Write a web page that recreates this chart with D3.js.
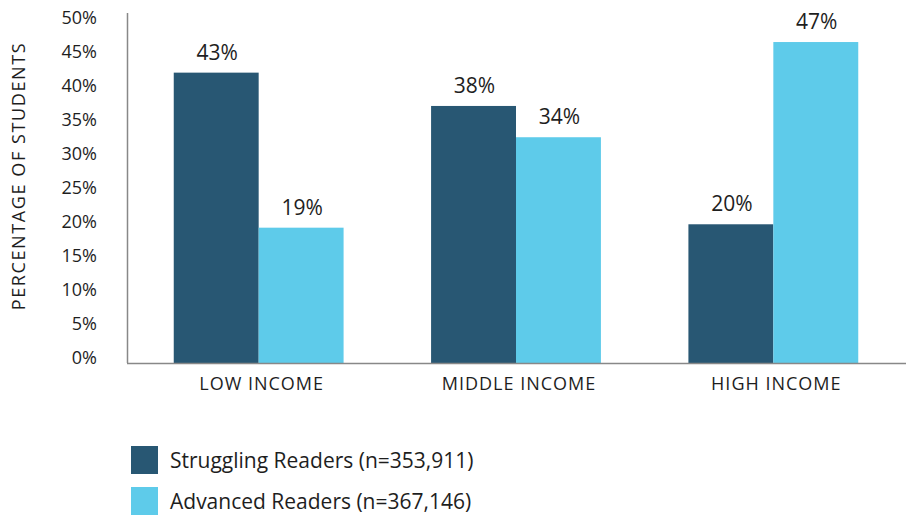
<!DOCTYPE html>
<html>
<head>
<meta charset="utf-8">
<script src="https://cdn.jsdelivr.net/npm/d3@7"></script>
<style>
  html, body { margin: 0; padding: 0; background: #fff; }
  svg { display: block; font-family: "Open Sans", "Noto Sans", sans-serif; }
</style>
</head>
<body>
<div id="chart"></div>
<script>
const categories = ["LOW INCOME", "MIDDLE INCOME", "HIGH INCOME"];
const seriesNames = ["Struggling Readers (n=353,911)", "Advanced Readers (n=367,146)"];
const struggling = [42.7, 37.8, 20.4];
const advanced = [19.9, 33.2, 47.2];
const strugglingLabels = ["43%", "38%", "20%"];
const advancedLabels = ["19%", "34%", "47%"];
const yTicks = [0, 5, 10, 15, 20, 25, 30, 35, 40, 45, 50];

const W = 906, H = 516;
const colors = ["#285773", "#5ecbea"];

const svg = d3.select("#chart").append("svg").attr("width", W).attr("height", H);

const x = d3.scaleBand().domain(categories).range([130, 902]).paddingInner(0.34).paddingOuter(0.17);
const xs = d3.scaleBand().domain([0, 1]).range([0, x.bandwidth()]);
const y = d3.scaleLinear().domain([0, 50]).range([363, 23]);

// y tick labels
svg.append("g").selectAll("text").data(yTicks).join("text")
  .attr("x", 97).attr("y", d => y(d) - 5).attr("dy", "0.35em")
  .attr("text-anchor", "end").attr("font-size", "18px").attr("fill", "#1e1e1e")
  .text(d => d + "%");

// y title
svg.append("text")
  .attr("transform", "translate(25,176) rotate(-90)")
  .attr("text-anchor", "middle").attr("font-size", "18px").attr("letter-spacing", "1.6px")
  .attr("fill", "#1e1e1e").text("PERCENTAGE OF STUDENTS");

// bars
const rows = categories.map((c, i) => ({
  cat: c,
  vals: [{ s: 0, v: struggling[i], l: strugglingLabels[i] }, { s: 1, v: advanced[i], l: advancedLabels[i] }]
}));

const g = svg.append("g").selectAll("g").data(rows).join("g")
  .attr("transform", d => `translate(${x(d.cat)},0)`);

g.selectAll("rect").data(d => d.vals).join("rect")
  .attr("x", d => xs(d.s)).attr("width", xs.bandwidth())
  .attr("y", d => y(d.v)).attr("height", d => y(0) - y(d.v))
  .attr("fill", d => colors[d.s]);

g.selectAll("text").data(d => d.vals).join("text")
  .attr("x", d => xs(d.s) + xs.bandwidth() / 2 + 1).attr("y", d => y(d.v) - 13)
  .attr("text-anchor", "middle").attr("font-size", "21px").attr("fill", "#1e1e1e")
  .text(d => d.l);

// axes lines
svg.append("line").attr("x1", 127.5).attr("x2", 127.5).attr("y1", 13).attr("y2", 363)
  .attr("stroke", "#888").attr("stroke-width", 1.5);
svg.append("line").attr("x1", 127).attr("x2", W).attr("y1", 363.5).attr("y2", 363.5)
  .attr("stroke", "#888").attr("stroke-width", 1.5);

// category labels
svg.append("g").selectAll("text").data(categories).join("text")
  .attr("x", d => x(d) + x.bandwidth() / 2 + 3).attr("y", 390)
  .attr("text-anchor", "middle").attr("font-size", "18px").attr("letter-spacing", "1px")
  .attr("fill", "#1e1e1e").text(d => d);

// legend
const lg = svg.append("g").selectAll("g").data(seriesNames).join("g")
  .attr("transform", (d, i) => `translate(131,${446 + i * 41})`);
lg.append("rect").attr("width", 27).attr("height", 28).attr("fill", (d, i) => colors[i]);
lg.append("text").attr("x", 39).attr("y", 21.5).attr("font-size", "21px").attr("fill", "#1e1e1e")
  .text(d => d);
</script>
</body>
</html>
